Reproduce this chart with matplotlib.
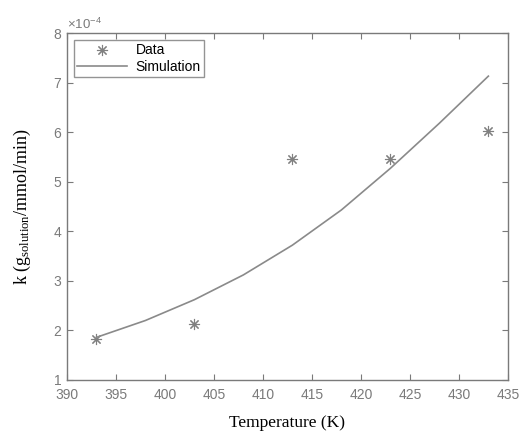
import numpy as np
import matplotlib.pyplot as plt
from matplotlib.ticker import ScalarFormatter

plt.rcParams['font.family'] = ['Liberation Sans', 'DejaVu Sans']
plt.rcParams['mathtext.default'] = 'regular'

# measured points
temp_data = [393, 403, 413, 423, 433]
k_data = [1.82e-4, 2.13e-4, 5.45e-4, 5.45e-4, 6.02e-4]

# simulation curve
temp_sim = [393, 398, 403, 408, 413, 418, 423, 428, 433]
k_sim = [1.86e-4, 2.20e-4, 2.62e-4, 3.12e-4, 3.72e-4, 4.43e-4, 5.27e-4, 6.18e-4, 7.13e-4]

axis_col = '#7a7a7a'

fig = plt.figure(figsize=(5.21, 4.32), dpi=100)
ax = fig.add_axes([0.1286, 0.1204, 0.8464, 0.8032])

ax.plot(temp_data, k_data, linestyle='none', marker=(8, 2, 0), markersize=8,
        markeredgewidth=0.8, color='#808080', label='Data')
ax.plot(temp_sim, k_sim, '-', color='#8a8a8a', linewidth=1.2, label='Simulation')

ax.set_xlim(390, 435)
ax.set_ylim(1e-4, 8e-4)
ax.set_xticks(np.arange(390, 436, 5))
ax.set_yticks(np.arange(1, 9) * 1e-4)

fmt = ScalarFormatter(useMathText=True)
fmt.set_powerlimits((-3, 3))
ax.yaxis.set_major_formatter(fmt)
ax.yaxis.get_offset_text().set_color(axis_col)
ax.yaxis.get_offset_text().set_fontsize(9.5)

ax.tick_params(direction='in', top=True, right=True, colors=axis_col,
               labelsize=10, length=4, width=0.8)
ax.tick_params(axis='x', pad=6)
for s in ax.spines.values():
    s.set_color(axis_col)
    s.set_linewidth(1.0)

serif = ['Liberation Serif', 'DejaVu Serif']
ax.set_xlabel('Temperature (K)', family=serif, fontsize=12.5, color='black', labelpad=9)
ax.set_ylabel(r'k (g$_{solution}$/mmol/min)', family=serif, fontsize=13,
              color='black', labelpad=14)

leg = ax.legend(loc='upper left', fontsize=10, frameon=True, fancybox=False,
                edgecolor=axis_col, borderaxespad=0.5, handlelength=3.6,
                borderpad=0.25, labelspacing=0.15, handletextpad=0.6)
leg.get_frame().set_linewidth(1.0)

plt.savefig('out.png', dpi=100)
